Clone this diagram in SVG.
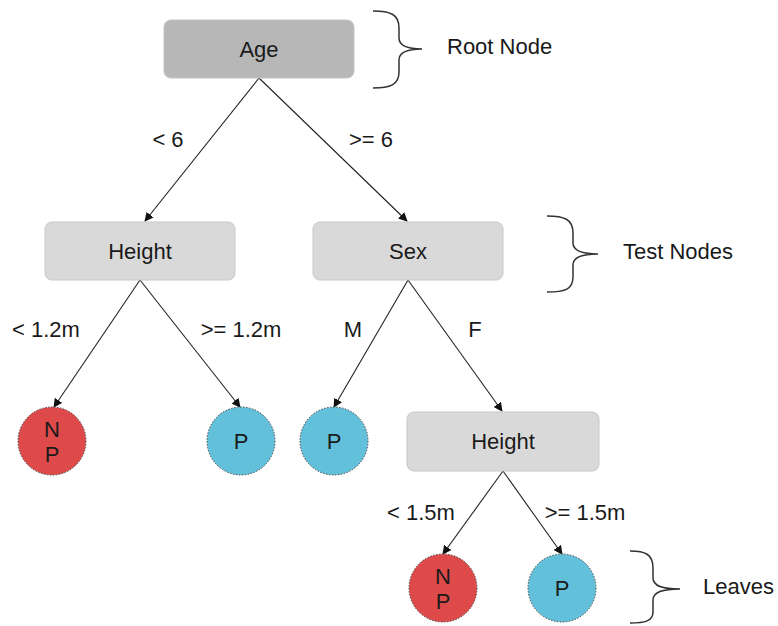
<svg xmlns="http://www.w3.org/2000/svg" width="778" height="626" viewBox="0 0 778 626">
  <style>
    text { font-family: "Liberation Sans", Arial, sans-serif; font-size: 22px; fill: #1a1a1a; }
    .mid { text-anchor: middle; }
    .box { fill: #d9d9d9; stroke: #c8c8c8; stroke-width: 1; }
    .root { fill: #b7b7b7; stroke: #c4c4c4; stroke-width: 1; }
    .neg { fill: #de4a4a; stroke: #444; stroke-width: 1; stroke-dasharray: 1.5 1.5; }
    .pos { fill: #62c0db; stroke: #444; stroke-width: 1; stroke-dasharray: 1.5 1.5; }
    .edge { stroke: #222; stroke-width: 1.1; fill: none; marker-end: url(#arrow); }
    .brace { stroke: #333; stroke-width: 1.5; fill: none; }
  </style>
  <defs>
    <marker id="arrow" viewBox="0 0 10 10" refX="9" refY="5" markerWidth="9" markerHeight="9" markerUnits="userSpaceOnUse" orient="auto">
      <path d="M0,0 L10,5 L0,10 z" fill="#111"/>
    </marker>
  </defs>
  <rect width="778" height="626" fill="#ffffff"/>

  <g id="connectors">
    <line class="edge" x1="259" y1="78" x2="145" y2="221"/>
    <line class="edge" x1="259" y1="78" x2="407" y2="221"/>
    <line class="edge" x1="140" y1="280" x2="54" y2="407"/>
    <line class="edge" x1="140" y1="280" x2="240" y2="407"/>
    <line class="edge" x1="408" y1="280" x2="334" y2="407"/>
    <line class="edge" x1="408" y1="280" x2="502" y2="411"/>
    <line class="edge" x1="503" y1="471" x2="443" y2="554"/>
    <line class="edge" x1="503" y1="471" x2="562" y2="554"/>
    <text class="mid" x="168" y="147">&lt; 6</text>
    <text class="mid" x="371" y="147">&gt;= 6</text>
    <text class="mid" x="46" y="337">&lt; 1.2m</text>
    <text class="mid" x="241" y="337">&gt;= 1.2m</text>
    <text class="mid" x="353" y="337">M</text>
    <text class="mid" x="475" y="337">F</text>
    <text class="mid" x="421" y="520">&lt; 1.5m</text>
    <text class="mid" x="585" y="520">&gt;= 1.5m</text>
  </g>

  <g id="age">
    <rect class="root" x="164" y="20" width="190" height="58" rx="7"/>
    <text class="mid" x="259" y="57">Age</text>
  </g>
  <g id="height-1">
    <rect class="box" x="45" y="222" width="190" height="58" rx="7"/>
    <text class="mid" x="140" y="259">Height</text>
  </g>
  <g id="sex">
    <rect class="box" x="313" y="222" width="190" height="58" rx="7"/>
    <text class="mid" x="408" y="259">Sex</text>
  </g>
  <g id="height-2">
    <rect class="box" x="407" y="412" width="192" height="59" rx="7"/>
    <text class="mid" x="503" y="449">Height</text>
  </g>

  <g id="leaf-np-1">
    <circle class="neg" cx="52" cy="441" r="34"/>
    <text class="mid" x="52" y="437">N</text>
    <text class="mid" x="52" y="462">P</text>
  </g>
  <g id="leaf-p-1">
    <circle class="pos" cx="241" cy="441" r="34"/>
    <text class="mid" x="241" y="449">P</text>
  </g>
  <g id="leaf-p-2">
    <circle class="pos" cx="334" cy="441" r="34"/>
    <text class="mid" x="334" y="449">P</text>
  </g>
  <g id="leaf-np-2">
    <circle class="neg" cx="443" cy="588" r="34"/>
    <text class="mid" x="443" y="584">N</text>
    <text class="mid" x="443" y="609">P</text>
  </g>
  <g id="leaf-p-3">
    <circle class="pos" cx="562" cy="588" r="34"/>
    <text class="mid" x="562" y="596">P</text>
  </g>

  <g id="label-root">
    <path class="brace" d="M373,11 C390,11 399,14 399,28 L399,38 C399,46 408,49 422,49 C408,49 399,52 399,60 L399,72 C399,85 390,88 373,88"/>
    <text x="447" y="54">Root Node</text>
  </g>
  <g id="label-test">
    <path class="brace" d="M547,216 C564,216 573,219 573,233 L573,243 C573,251 582,254 598,254 C582,254 573,257 573,265 L573,277 C573,290 564,292 547,292"/>
    <text x="623" y="259">Test Nodes</text>
  </g>
  <g id="label-leaves">
    <path class="brace" d="M630,551 C645,551 653,554 653,568 L653,578 C653,586 662,589 680,589 C662,589 653,592 653,600 L653,612 C653,621 645,623 630,623"/>
    <text x="703" y="594">Leaves</text>
  </g>
</svg>
